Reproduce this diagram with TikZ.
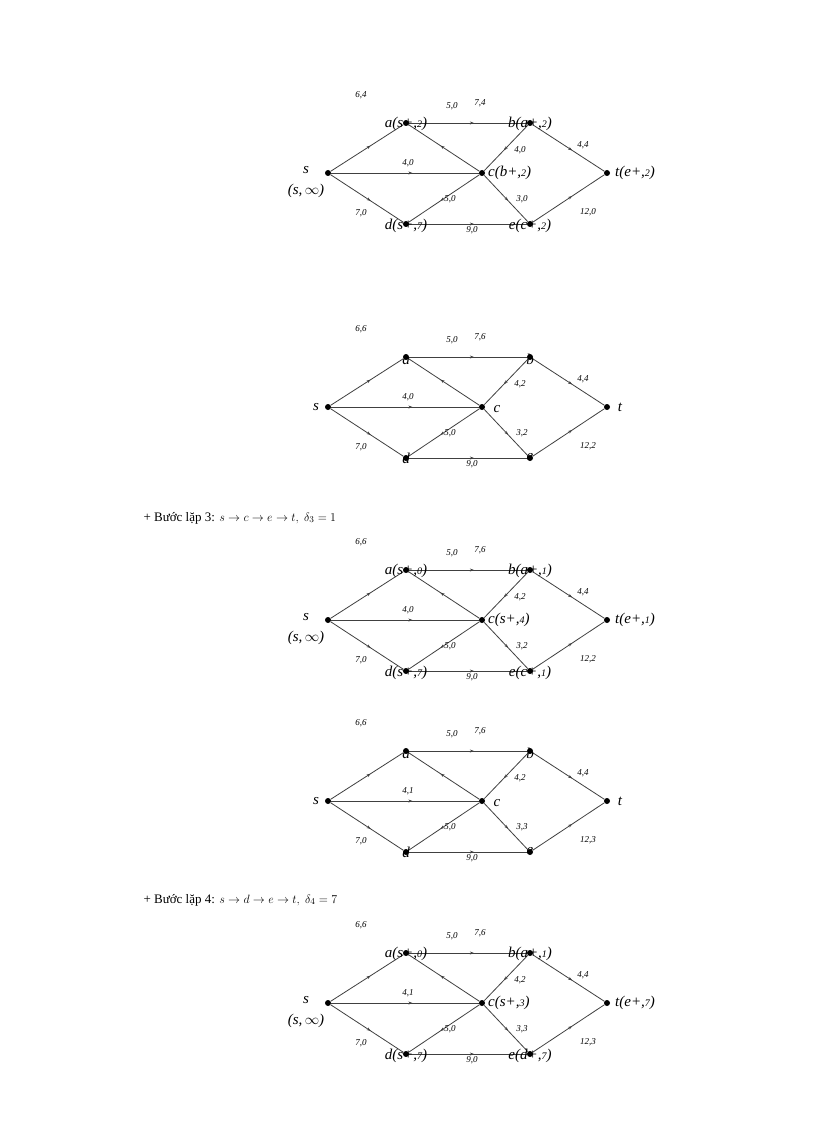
\documentclass[tikz,border=0pt]{standalone}
\usepackage{fontspec}
\setmainfont{Liberation Serif}
\usetikzlibrary{decorations.markings,arrows.meta}
\tikzset{
 dot/.style={circle,fill=black,inner sep=0pt,minimum size=6pt},
 ed/.style={draw=black!75,line width=0.8pt,postaction={decorate},decoration={markings,mark=at position 0.55 with {\arrow{Stealth[length=4pt,width=3pt]}}}},
 el/.style={font=\itshape\fontsize{9}{9}\selectfont,inner sep=0pt},
 nl/.style={font=\itshape\fontsize{15}{15}\selectfont,inner sep=0pt},
}
\newcommand{\Gr}[2]{%
 \node[dot] (s#1) at (328,#2) {};
 \node[dot] (a#1) at (406,#2-50) {};
 \node[dot] (b#1) at (530,#2-50) {};
 \node[dot] (c#1) at (482,#2) {};
 \node[dot] (d#1) at (406,#2+51) {};
 \node[dot] (e#1) at (530,#2+51) {};
 \node[dot] (t#1) at (607,#2) {};
 \draw[ed] (s#1)--(a#1); \draw[ed] (a#1)--(b#1); \draw[ed] (c#1)--(a#1);
 \draw[ed] (b#1)--(c#1); \draw[ed] (s#1)--(c#1); \draw[ed] (b#1)--(t#1);
 \draw[ed] (s#1)--(d#1); \draw[ed] (c#1)--(d#1); \draw[ed] (c#1)--(e#1);
 \draw[ed] (e#1)--(t#1); \draw[ed] (d#1)--(e#1);}
% edge labels: suffix, sa, ab, ac, bc, sc, bt, sd, cd, ce, et, de
\newcommand{\EL}[9]{%
 \node[el] (lsa#1) at ([shift={(-45,-28)}]a#1) {#2};
 \node[el] (lab#1) at ([shift={(74,-20)}]a#1) {#3};
 \node[el] (lac#1) at ([shift={(46,-17)}]a#1) {#4};
 \node[el] (lbc#1) at ([shift={(-10,27)}]b#1) {#5};
 \node[el] (lsc#1) at ([shift={(80,-10)}]s#1) {#6};
 \node[el] (lbt#1) at ([shift={(53,22)}]b#1) {#7};
 \node[el] (lsd#1) at ([shift={(-45,-11)}]d#1) {#8};
 \node[el] (lcd#1) at ([shift={(44,-25)}]d#1) {#9};}
\newcommand{\ELb}[4]{%
 \node[el] (lce#1) at ([shift={(-8,-25)}]e#1) {#2};
 \node[el] (let#1) at ([shift={(58,-12)}]e#1) {#3};
 \node[el] (lde#1) at ([shift={(-58,6)}]e#1) {#4};}
\newcommand{\NLfull}[7]{%
 \node[nl,anchor=south] (na#1) at ([yshift=-8]a#1) {#2};
 \node[nl,anchor=south] (nb#1) at ([yshift=-8]b#1) {#3};
 \node[nl,anchor=west] (nc#1) at ([xshift=6]c#1) {#4};
 \node[nl,anchor=west] (nt#1) at ([xshift=8]t#1) {#5};
 \node[nl,anchor=north] (nd#1) at ([yshift=5]d#1) {#6};
 \node[nl,anchor=north] (ne#1) at ([yshift=5]e#1) {#7};
 \node[nl] (ns#1) at ([shift={(-22,-3)}]s#1) {s};
 \node[nl] (ni#1) at ([shift={(-22,18)}]s#1) {(s,\,$\infty$)};}
\newcommand{\NLs}[1]{%
 \node[nl,anchor=south] (na#1) at ([yshift=-8]a#1) {a};
 \node[nl,anchor=south] (nb#1) at ([yshift=-8]b#1) {b};
 \node[nl] (nc#1) at ([shift={(15,2)}]c#1) {c};
 \node[nl] (nt#1) at ([xshift=13]t#1) {t};
 \node[nl] (ns#1) at ([xshift=-12]s#1) {s};
 \node[nl,anchor=north] (nd#1) at ([yshift=5]d#1) {d};
 \node[nl,anchor=north] (ne#1) at ([yshift=5]e#1) {e};}
\newcommand{\sm}[1]{{\fontsize{10}{10}\selectfont #1}}
\begin{document}
\begin{tikzpicture}[x=1pt,y=-1pt]
\useasboundingbox[fill=white] (0,0) rectangle (816,1123);
\Gr{1}{173}
\EL{1}{6,4}{7,4}{5,0}{4,0}{4,0}{4,4}{7,0}{5,0}\ELb{1}{3,0}{12,0}{9,0}
\NLfull{1}{a(s+,\sm{2})}{b(a+,\sm{2})}{c(b+,\sm{2})}{t(e+,\sm{2})}{d(s+,\sm{7})}{e(c+,\sm{2})}
\Gr{2}{407}
\EL{2}{6,6}{7,6}{5,0}{4,2}{4,0}{4,4}{7,0}{5,0}\ELb{2}{3,2}{12,2}{9,0}
\NLs{2}
\node[anchor=west,font=\fontsize{13}{13}\selectfont] (h3) at (140,518) {+ Bước lặp 3: $s\rightarrow c\rightarrow e\rightarrow t,\ \delta_3=1$};
\Gr{3}{620}
\EL{3}{6,6}{7,6}{5,0}{4,2}{4,0}{4,4}{7,0}{5,0}\ELb{3}{3,2}{12,2}{9,0}
\NLfull{3}{a(s+,\sm{0})}{b(a+,\sm{1})}{c(s+,\sm{4})}{t(e+,\sm{1})}{d(s+,\sm{7})}{e(c+,\sm{1})}
\Gr{4}{801}
\EL{4}{6,6}{7,6}{5,0}{4,2}{4,1}{4,4}{7,0}{5,0}\ELb{4}{3,3}{12,3}{9,0}
\NLs{4}
\node[anchor=west,font=\fontsize{13}{13}\selectfont] (h4) at (140,900) {+ Bước lặp 4: $s\rightarrow d\rightarrow e\rightarrow t,\ \delta_4=7$};
\Gr{5}{1003}
\EL{5}{6,6}{7,6}{5,0}{4,2}{4,1}{4,4}{7,0}{5,0}\ELb{5}{3,3}{12,3}{9,0}
\NLfull{5}{a(s+,\sm{0})}{b(a+,\sm{1})}{c(s+,\sm{3})}{t(e+,\sm{7})}{d(s+,\sm{7})}{e(d+,\sm{7})}
\end{tikzpicture}
\end{document}
